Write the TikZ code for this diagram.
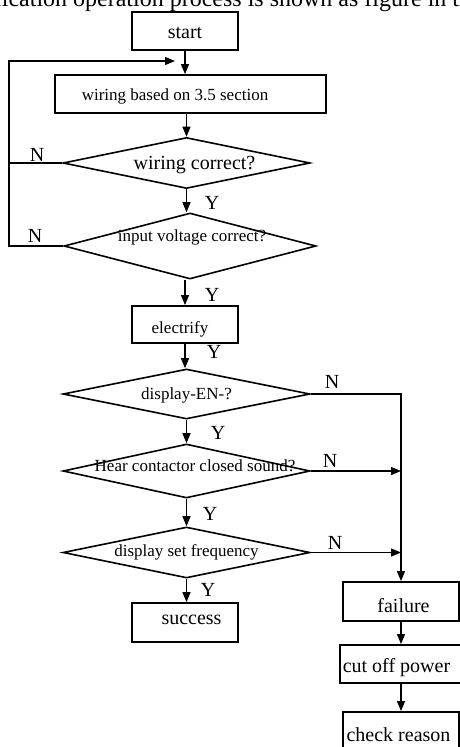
\documentclass[tikz,border=0pt]{standalone}
\usepackage{fontspec}
\setmainfont{Liberation Serif}
\usetikzlibrary{shapes.geometric,arrows.meta}
\newcommand\tx[3]{\makebox[0pt]{\hspace*{#1}\raisebox{#2}[\height][\depth]{#3}}}
\begin{document}
\begin{tikzpicture}[x=1pt,y=-1pt,
  box/.style={draw,line width=1.8pt,rectangle,inner sep=0pt},
  dia/.style={draw,line width=1.6pt,diamond,inner sep=0pt,aspect=1},
  big/.style={font=\fontsize{20}{24}\selectfont},
  small/.style={font=\fontsize{17}{20}\selectfont},
  arr/.style={line width=1.2pt,-{Triangle[length=10pt,width=8pt]}},
  ln/.style={line width=1.2pt},
  lab/.style={font=\fontsize{20}{24}\selectfont,inner sep=0pt},
]
\useasboundingbox (0,0) rectangle (460,747);
\clip (0,0) rectangle (460,747);
\fill[white] (0,0) rectangle (460,747);

\node[font=\fontsize{24}{28}\selectfont,anchor=base west,inner sep=0pt] (top) at (-13,6) {ification operation process is shown as figure in the};

\node[box,big,minimum width=106pt,minimum height=38pt] (start) at (185,31) {\tx{0pt}{-2pt}{start}};
\node[box,small,minimum width=271pt,minimum height=38pt] (wire) at (190.5,94) {\tx{-31pt}{-2pt}{wiring based on 3.5 section}};
\node[dia,big,minimum width=247pt,minimum height=51pt] (d1) at (186.5,163) {\tx{16pt}{-2pt}{wiring correct?}};
\node[dia,small,minimum width=252pt,minimum height=66pt] (d2) at (190,246) {\tx{4pt}{8.5pt}{input voltage correct?}};
\node[box,small,minimum width=106pt,minimum height=37pt] (elec) at (185,324.5) {\tx{-10pt}{-4.5pt}{electrify}};
\node[dia,small,minimum width=247pt,minimum height=50pt] (d3) at (186.5,394) {\tx{0pt}{-1.5pt}{display-EN-?}};
\node[dia,small,minimum width=247pt,minimum height=54pt] (d4) at (186.5,471) {\tx{17pt}{5pt}{Hear contactor closed sound?}};
\node[dia,small,minimum width=247pt,minimum height=51pt] (d5) at (186.5,552.5) {\tx{0pt}{0pt}{display set frequency}};
\node[box,big,minimum width=106pt,minimum height=39pt] (succ) at (185,622.5) {\tx{13pt}{3pt}{success}};
\node[box,big,minimum width=116pt,minimum height=39pt] (fail) at (401,601.5) {\tx{5pt}{-4pt}{failure}};
\node[box,big,minimum width=122pt,minimum height=38pt] (cut) at (401,664) {\tx{-9pt}{-4pt}{cut off power}};
\node[box,big,minimum width=116pt,minimum height=48pt] (check) at (401,736) {\tx{-5pt}{1pt}{check reason}};

\node[lab] (n1) at (37,155) {N};
\node[lab] (n2) at (35,236) {N};
\node[lab] (y1) at (212,203) {Y};
\node[lab] (y2) at (212,295) {Y};
\node[lab] (y3) at (214,352) {Y};
\node[lab] (y4) at (218,433) {Y};
\node[lab] (y5) at (210,514) {Y};
\node[lab] (y6) at (208,590) {Y};
\node[lab] (n3) at (332,382) {N};
\node[lab] (n4) at (330,461) {N};
\node[lab] (n5) at (335,543) {N};

\coordinate (fbT) at (9,61);
\coordinate (fbE) at (175,61);

\draw[arr] (start) -- (start.south |- wire.north);
\draw[arr] (d1.north |- wire.south) -- (d1.north);
\draw[ln] (d1.west) -- (d1.west -| fbT);
\draw[arr] (d2.west) -- (d2.west -| fbT) -- (fbT) -- (fbE);
\draw[arr] (d1.south) -- (d1.south |- d2.north);
\draw[arr] (elec.north |- d2.south) -- (elec.north);
\draw[arr] (elec.south) -- (elec.south |- d3.north);
\draw[arr] (d3.south) -- (d4.north);
\draw[arr] (d4.south) -- (d5.north);
\draw[arr] (d5.south) -- (d5.south |- succ.north);
\draw[arr] (d3.east) -- (d3.east -| fail.north) -- (fail.north);
\draw[arr] (d4.east) -- (d4.east -| fail.north);
\draw[arr] (d5.east) -- (d5.east -| fail.north);
\draw[arr] (fail) -- (cut);
\draw[arr] (cut) -- (check);
\end{tikzpicture}
\end{document}
